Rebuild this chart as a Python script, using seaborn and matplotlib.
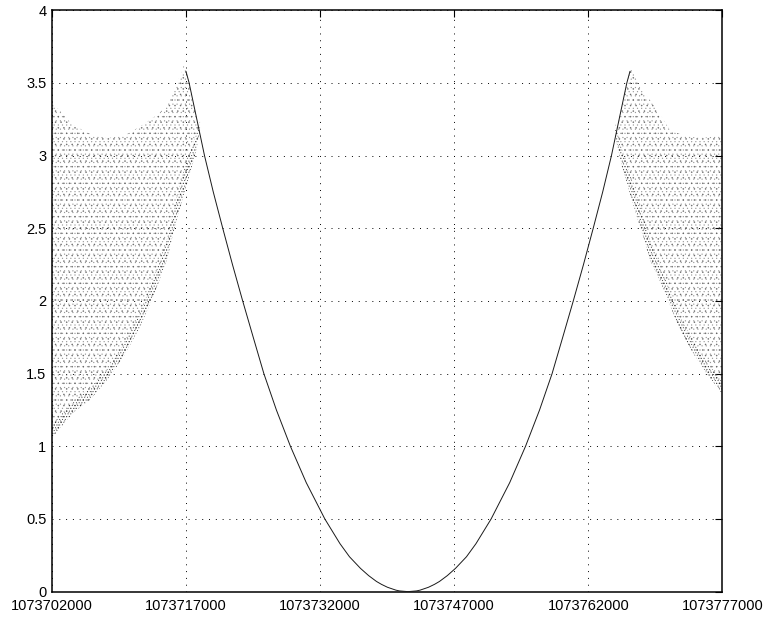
import matplotlib
matplotlib.use("Agg")
import matplotlib.pyplot as plt
import seaborn as sns
from matplotlib.ticker import FixedLocator, FixedFormatter

# Smooth branch between the two peaks
curve_x = [1073716997, 1073717350, 1073718210, 1073719070, 1073720050, 1073721110,
           1073722200, 1073723340, 1073724520, 1073725710, 1073727110, 1073728680,
           1073730450, 1073732530, 1073734224, 1073735286, 1073736517, 1073737434,
           1073738306, 1073738866, 1073739537, 1073740488, 1073740879, 1073741830,
           1073742781, 1073743172, 1073744123, 1073744794, 1073745354, 1073746226,
           1073747143, 1073748374, 1073749436, 1073751130, 1073753210, 1073754980,
           1073756550, 1073757950, 1073759140, 1073760320, 1073761460, 1073762550,
           1073763610, 1073764590, 1073765450, 1073766310, 1073766663]
curve_y = [3.58, 3.50, 3.25, 3.00, 2.75, 2.50,
           2.25, 2.00, 1.75, 1.50, 1.25, 1.00,
           0.75, 0.50, 0.33, 0.24, 0.16, 0.11,
           0.07, 0.05, 0.03, 0.01, 0.005, 0.0,
           0.005, 0.01, 0.03, 0.05, 0.07, 0.11,
           0.16, 0.24, 0.33, 0.50, 0.75, 1.00,
           1.25, 1.50, 1.75, 2.00, 2.25, 2.50,
           2.75, 3.00, 3.25, 3.50, 3.58]

# Scattered cloud left of the first peak: lower edge, then upper edge
left_low_x = [1073702000, 1073704360, 1073706260, 1073708160, 1073709990, 1073711850,
              1073713340, 1073714840, 1073715960, 1073716890, 1073717080, 1073718010,
              1073718570]
left_low_y = [1.06, 1.23, 1.32, 1.455, 1.615, 1.82,
              2.03, 2.28, 2.56, 2.76, 2.80, 3.00,
              3.17]
left_band_y = [1.15, 1.31, 1.40, 1.53, 1.70, 1.92,
               2.15, 2.42, 2.71, 2.93, 2.96, 3.12,
               3.24]
left_top_x = [1073718210, 1073717350, 1073716997, 1073716780, 1073716440, 1073715550,
              1073714840, 1073713760, 1073711850, 1073710180, 1073708160, 1073706260,
              1073704360, 1073702570, 1073702000]
left_top_y = [3.25, 3.50, 3.58, 3.62, 3.56, 3.45,
              3.34, 3.28, 3.20, 3.14, 3.12, 3.15,
              3.21, 3.33, 3.35]

# Scattered cloud right of the second peak: upper edge, then lower edge
right_top_x = [1073764990, 1073765450, 1073766310, 1073766663, 1073766780, 1073767780,
               1073769650, 1073771140, 1073772630, 1073774500, 1073777000]
right_top_y = [3.14, 3.25, 3.50, 3.58, 3.62, 3.47,
               3.32, 3.175, 3.14, 3.12, 3.14]
right_low_x = [1073764990, 1073765740, 1073767040, 1073768150, 1073768900, 1073769650,
               1073770950, 1073772260, 1073773750, 1073775250, 1073777000]
right_low_y = [3.14, 2.93, 2.66, 2.44, 2.28, 2.19,
               2.00, 1.80, 1.64, 1.50, 1.36]
right_band_y = [3.22, 3.05, 2.80, 2.58, 2.42, 2.30,
                2.10, 1.89, 1.72, 1.58, 1.44]

x_ticks = [1073702000, 1073717000, 1073732000, 1073747000, 1073762000, 1073777000]
x_tick_labels = ["1073702000", "1073717000", "1073732000", "1073747000",
                 "1073762000", "1073777000"]
y_ticks = [0, 0.5, 1, 1.5, 2, 2.5, 3, 3.5, 4]
y_tick_labels = ["0", "0.5", "1", "1.5", "2", "2.5", "3", "3.5", "4"]

sns.set_style("white")
plt.rcParams["font.family"] = ["Liberation Sans", "DejaVu Sans"]
plt.rcParams["hatch.linewidth"] = 0.35

fig = plt.figure(figsize=(7.68, 6.21), dpi=100)
ax = fig.add_axes([0.0676, 0.0473, 0.8730, 0.9361])

# Stippled clouds: two interleaved fine dot screens, denser along the lower edge
left_poly_x = left_low_x + left_top_x
left_poly_y = left_low_y + left_top_y
right_poly_x = right_top_x + right_low_x[::-1]
right_poly_y = right_top_y + right_low_y[::-1]
for px, py in [(left_poly_x, left_poly_y), (right_poly_x, right_poly_y)]:
    ax.fill(px, py, facecolor="none", edgecolor=(0.25, 0.25, 0.25, 0.65), linewidth=0,
            hatch="...", zorder=1)
    ax.fill(px, py, facecolor="none", edgecolor=(0.35, 0.35, 0.35, 0.5), linewidth=0,
            hatch="....", zorder=1)
for bx, blo, bhi in [(left_low_x, left_low_y, left_band_y),
                     (right_low_x, right_low_y, right_band_y)]:
    ax.fill_between(bx, blo, bhi, facecolor="none", edgecolor=(0.1, 0.1, 0.1, 0.8),
                    linewidth=0, hatch="......", zorder=1)

sns.lineplot(x=curve_x, y=curve_y, sort=False, estimator=None, color="0.1",
             linewidth=0.7, ax=ax, zorder=3)

ax.set_xlim(x_ticks[0], x_ticks[-1])
ax.set_ylim(0, 4)
ax.xaxis.set_major_locator(FixedLocator(x_ticks))
ax.xaxis.set_major_formatter(FixedFormatter(x_tick_labels))
ax.yaxis.set_major_locator(FixedLocator(y_ticks))
ax.yaxis.set_major_formatter(FixedFormatter(y_tick_labels))

ax.grid(True, color="black", linestyle=(0, (1, 6)), linewidth=0.7, zorder=0)
ax.set_axisbelow(True)
ax.tick_params(direction="in", length=5, width=0.8, top=True, right=True,
               labelsize=10.5, colors="black")
ax.tick_params(axis="x", pad=5.5)
ax.tick_params(axis="y", pad=4)
for s in ax.spines.values():
    s.set_visible(True)
    s.set_color("black")
    s.set_linewidth(1.1)

fig.savefig("out.png", dpi=100)
